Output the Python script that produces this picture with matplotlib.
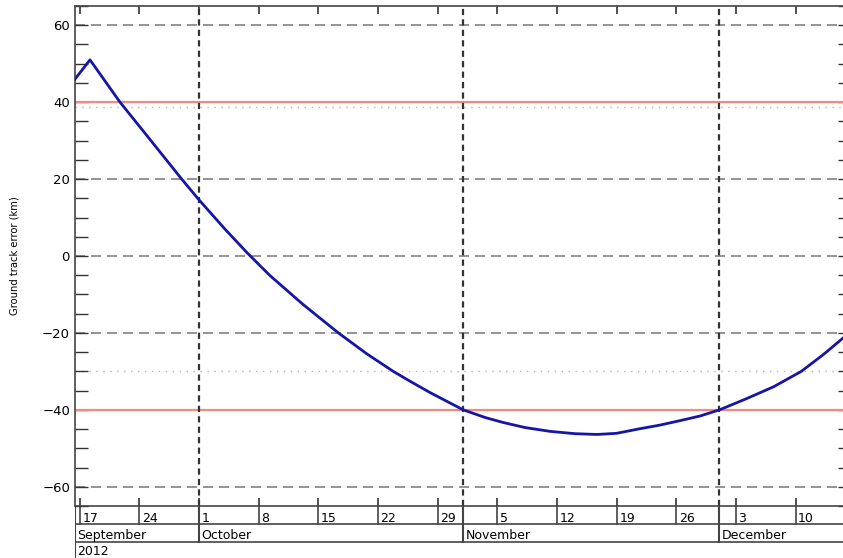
"""
Ground track error vs date (Sep-Dec 2012), IDL-style panel with date bands.
"""
import matplotlib
matplotlib.use("Agg")
import matplotlib.pyplot as plt
import matplotlib.dates as mdates
from matplotlib.ticker import MultipleLocator
import pandas as pd

plt.rcParams["font.family"] = ["DejaVu Sans"]

# --- data ---
curve_time = [
    "2012-09-16 10:48", "2012-09-18 05:00", "2012-09-21 17:30", "2012-09-25 06:00",
    "2012-09-28 23:15", "2012-10-01 00:00", "2012-10-04 01:00", "2012-10-06 18:00",
    "2012-10-09 08:00", "2012-10-13 05:00", "2012-10-17 08:30", "2012-10-20 16:00",
    "2012-10-23 19:00", "2012-10-25 19:00", "2012-10-28 02:30", "2012-11-01 00:00",
    "2012-11-03 14:00", "2012-11-05 17:00", "2012-11-08 06:00", "2012-11-11 05:00",
    "2012-11-14 03:00", "2012-11-16 17:00", "2012-11-19 00:00", "2012-11-21 18:00",
    "2012-11-24 00:00", "2012-11-26 11:00", "2012-11-28 19:00", "2012-12-01 01:40",
    "2012-12-04 03:00", "2012-12-07 10:00", "2012-12-10 16:00", "2012-12-13 06:30",
    "2012-12-15 14:00", "2012-12-16 12:00",
]
curve_err = [
    46.0, 51.0, 40.0, 30.3,
    20.0, 14.6, 7.0, 0.6,
    -5.1, -12.6, -20.0, -25.4,
    -30.0, -32.6, -35.5, -40.0,
    -42.0, -43.3, -44.6, -45.6,
    -46.2, -46.4, -46.1, -44.9,
    -44.0, -42.8, -41.6, -40.0,
    -37.2, -34.0, -30.0, -25.6,
    -21.3, -19.8,
]
limit_lines = [40, -40]
dotted_lines = [38.7, -30]
week_ticks = pd.date_range("2012-09-17", "2012-12-10", freq="7D")
month_starts = pd.to_datetime(["2012-10-01", "2012-11-01", "2012-12-01"])
month_names = ["September", "October", "November", "December"]
year_label = "2012"
x_start = pd.Timestamp("2012-09-16 10:48")
x_end = pd.Timestamp("2012-12-16 12:00")

W, H = 843, 558
fig = plt.figure(figsize=(W / 100, H / 100), dpi=100)
ax = fig.add_axes([75 / W, 52 / H, (851 - 75) / W, 500 / H])
band = fig.add_axes([75 / W, 0, (851 - 75) / W, 52 / H])

t = pd.to_datetime(curve_time)
x0, x1 = mdates.date2num(x_start), mdates.date2num(x_end)

# horizontal grid and reference lines
for y in range(-60, 61, 20):
    ax.axhline(y, color="#808080", lw=1.2, dashes=(6, 3.6), zorder=1)
for y in limit_lines:
    ax.axhline(y, color="#f28a82", lw=1.6, zorder=2)
for y in dotted_lines:
    ax.axhline(y, color="#cfa9a9", lw=1.0, ls=(0, (1, 4)), zorder=1)
for m in month_starts:
    ax.axvline(mdates.date2num(m), color="#333333", lw=1.6, dashes=(2.8, 1.9), zorder=2)

ax.plot(mdates.date2num(t), curve_err, color="#1616a6", lw=2.0, zorder=3)

ax.set_xlim(x0, x1)
ax.set_ylim(-65, 65)
ax.yaxis.set_major_locator(MultipleLocator(20))
ax.yaxis.set_minor_locator(MultipleLocator(5))
ax.set_xticks(mdates.date2num(week_ticks))
ax.tick_params(axis="y", which="both", direction="in", length=9.4, width=1.0,
               left=True, right=True, labelsize=9.5, pad=3.6, color="#333333")
ax.tick_params(axis="x", direction="in", length=5.8, width=1.2, top=True,
               bottom=True, labelbottom=False, color="#333333")
for s in ax.spines.values():
    s.set_color("#444444")
    s.set_linewidth(1.2)
ax.set_ylabel("Ground track error (km)", fontsize=7.2)
ax.yaxis.set_label_coords(-(75 - 19) / 776, 0.5)

# date band below the axis: days / months / year
band.set_xlim(x0, x1)
band.set_ylim(0, 52)
band.axis("off")
lc = "#444444"
band.plot([x0, x1], [34, 34], color=lc, lw=1.2)
band.plot([x0, x1], [16, 16], color=lc, lw=1.2)
band.plot([x0, x0], [0, 52], color=lc, lw=1.5)
for d in week_ticks:
    xd = mdates.date2num(d)
    band.plot([xd, xd], [34, 52], color=lc, lw=1.2)
    band.text(xd + 0.3, 35.5, str(d.day), fontsize=9, ha="left", va="baseline")
for m in month_starts:
    xm = mdates.date2num(m)
    band.plot([xm, xm], [16, 52], color=lc, lw=1.5)
month_x = [x0] + [mdates.date2num(m) for m in month_starts]
for xm, name in zip(month_x, month_names):
    band.text(xm + 0.3, 18.7, name, fontsize=9, ha="left", va="baseline")
band.text(x0 + 0.3, 2.8, year_label, fontsize=9, ha="left", va="baseline")

fig.savefig("out.png", dpi=100)
